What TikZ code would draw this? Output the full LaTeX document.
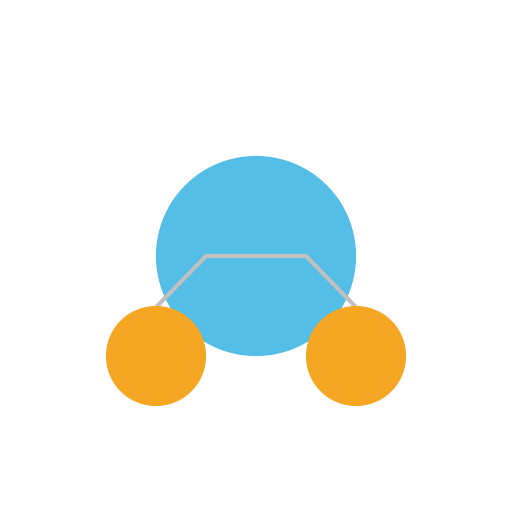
\documentclass[tikz,border=0pt]{standalone}
\usepackage{tikz}
\usetikzlibrary{positioning}
\definecolor{skyblue}{RGB}{84,190,230}
\definecolor{amber}{RGB}{245,166,35}
\definecolor{linkgray}{RGB}{192,192,192}
\pgfdeclarelayer{back}
\pgfsetlayers{back,main}

\begin{document}
\begin{tikzpicture}[x=0.01cm, y=-0.01cm,
    core/.style={circle, fill=skyblue, minimum size=2cm, inner sep=0pt},
    leaf/.style={circle, fill=amber, minimum size=1cm, inner sep=0pt},
    link/.style={draw=linkgray, line width=0.04cm}]
        % Canvas
        \useasboundingbox (0,0) rectangle (512,512);

        % Side balls
        \node[leaf] (left) at (156,356) {};
        \node[leaf] (right) at (356,356) {};

        % Bend points of the link
        \coordinate (bendL) at (206,256);
        \coordinate (bendR) at (306,256);

        \begin{pgfonlayer}{back}
            % Central body
            \node[core] (body) at (256,256) {};
            % Link between the balls
            \draw[link] ([yshift=-0.02cm]left.north) -- (bendL) -- (bendR) -- ([yshift=-0.02cm]right.north);
        \end{pgfonlayer}
\end{tikzpicture}
\end{document}
